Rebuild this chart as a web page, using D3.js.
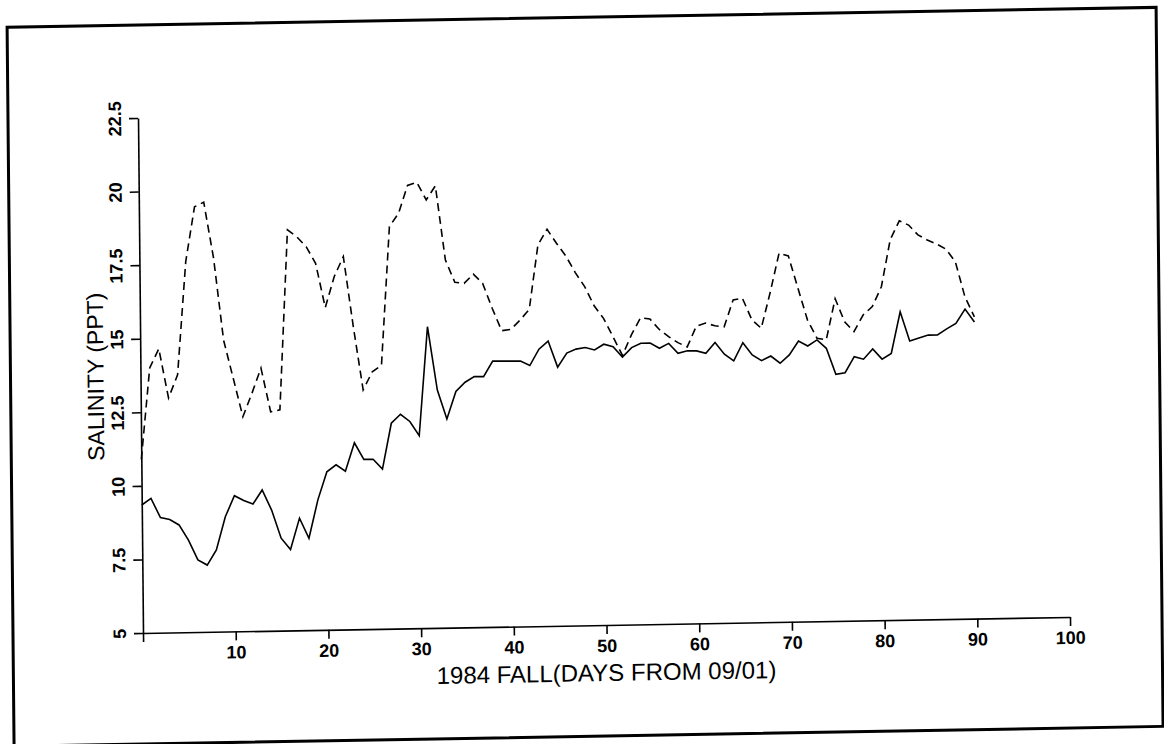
<!DOCTYPE html>
<html>
<head>
<meta charset="utf-8">
<script src="https://cdn.jsdelivr.net/npm/d3@7"></script>
<style>
  html, body { margin: 0; padding: 0; background: #fff; }
  svg { display: block; }
  text { font-family: "Liberation Sans", Arial, Helvetica, sans-serif; fill: #000; }
</style>
</head>
<body>
<svg id="chart" width="1164" height="744"></svg>
<script>
// ---- data (salinity, PPT) ----
const days = d3.range(0, 91); // days from 09/01

const solidSeries = [
  9.35, 9.57, 8.91, 8.84, 8.65, 8.13, 7.45, 7.27, 7.78, 8.90,
  9.61, 9.44, 9.32, 9.79, 9.10, 8.14, 7.75, 8.81, 8.12, 9.42,
  10.37, 10.60, 10.38, 11.34, 10.77, 10.77, 10.43, 11.98, 12.28, 12.03,
  11.54, 15.24, 13.08, 12.09, 13.02, 13.33, 13.52, 13.51, 14.03, 14.03,
  14.02, 14.02, 13.86, 14.41, 14.68, 13.79, 14.26, 14.39, 14.44, 14.35,
  14.54, 14.45, 14.09, 14.41, 14.55, 14.55, 14.37, 14.53, 14.19, 14.27,
  14.26, 14.17, 14.53, 14.13, 13.90, 14.51, 14.09, 13.89, 14.04, 13.79,
  14.07, 14.53, 14.36, 14.56, 14.27, 13.38, 13.43, 13.97, 13.88, 14.22,
  13.87, 14.06, 15.47, 14.47, 14.57, 14.66, 14.66, 14.86, 15.04, 15.52,
  15.08
];

const dashedSeries = [
  10.9, 14.0, 14.65, 12.97, 13.75, 17.6, 19.45, 19.6, 17.7, 14.9,
  13.6, 12.29, 13.08, 13.93, 12.44, 12.5, 18.61, 18.37, 18.03, 17.46,
  15.95, 17.0, 17.67, 15.29, 13.13, 13.74, 13.95, 18.66, 19.11, 20.05,
  20.15, 19.55, 20.02, 17.5, 16.73, 16.69, 17.0, 16.68, 15.83, 15.06,
  15.1, 15.41, 15.77, 17.95, 18.48, 18.0, 17.56, 16.99, 16.51, 15.85,
  15.42, 14.79, 14.15, 14.85, 15.42, 15.37, 15.01, 14.76, 14.55, 14.4,
  15.1, 15.2, 15.1, 15.06, 15.97, 16.02, 15.28, 14.99, 16.2, 17.53,
  17.43, 16.33, 15.24, 14.62, 14.56, 15.95, 15.16, 14.82, 15.38, 15.66,
  16.33, 17.92, 18.56, 18.41, 18.07, 17.89, 17.75, 17.57, 17.14, 15.94,
  15.25
];

const xMajorTicks = [0, 10, 20, 30, 40, 50, 60, 70, 80, 90, 100];
const xMinorTicks = [2, 4, 6, 8, 12, 14, 16, 18, 22, 24, 26, 28, 32, 34, 36, 38,
  42, 44, 46, 48, 52, 54, 56, 58, 62, 64, 66, 68, 72, 74, 76, 78, 82, 84, 86, 88,
  92, 94, 96, 98];
const yMajorTicks = [5, 7.5, 10, 12.5, 15, 17.5, 20, 22.5];
const yMinorTicks = [6.25, 8.75, 11.25, 13.75, 16.25, 18.75, 21.25];

const xTitle = "1984 FALL(DAYS FROM 09/01)";
const yTitle = "SALINITY (PPT)";

// ---- layout ----
const svg = d3.select("#chart");
svg.append("rect").attr("width", 1164).attr("height", 744).attr("fill", "#fff");

// the scanned page is slightly tilted; reproduce with a small affine transform
const g = svg.append("g")
  .attr("transform", "matrix(1,-0.0173,0.0097,1,-6.14,2.474)");

// frame
g.append("rect")
  .attr("x", 13).attr("y", 25).attr("width", 1149).attr("height", 719)
  .attr("fill", "none").attr("stroke", "#000").attr("stroke-width", 3);

const x = d3.scaleLinear().domain([0, 100]).range([143, 1070]);
const y = d3.scaleLinear().domain([5, 22.5]).range([633, 118]);

// x axis (major + minor)
const xAxisG = g.append("g").attr("transform", `translate(0,${y(5)})`);
xAxisG.call(d3.axisBottom(x).tickValues(xMinorTicks).tickSize(4).tickSizeOuter(0).tickFormat(""));
xAxisG.call(d3.axisBottom(x).tickValues(xMajorTicks).tickSize(9).tickSizeOuter(0)
  .tickFormat(d => d === 0 ? "" : String(d)));
xAxisG.selectAll("path, line").attr("stroke", "#000").attr("stroke-width", 1.6);
xAxisG.selectAll("text")
  .attr("y", 27).attr("dy", null)
  .style("font-size", "18px").style("font-weight", "bold").attr("fill", "#000");

// y axis (major + minor)
const yAxisG = g.append("g").attr("transform", `translate(${x(0)},0)`);
yAxisG.call(d3.axisLeft(y).tickValues(yMinorTicks).tickSize(4).tickSizeOuter(0).tickFormat(""));
yAxisG.call(d3.axisLeft(y).tickValues(yMajorTicks).tickSize(9).tickSizeOuter(0)
  .tickFormat(d => String(d)));
yAxisG.selectAll("path, line").attr("stroke", "#000").attr("stroke-width", 1.6);
yAxisG.selectAll("text")
  .attr("x", null).attr("dy", null)
  .attr("text-anchor", "middle")
  .attr("transform", "translate(-17,0) rotate(-90)")
  .style("font-size", "18px").style("font-weight", "bold").attr("fill", "#000");

// titles
g.append("text")
  .attr("x", 606).attr("y", 689)
  .attr("text-anchor", "middle")
  .style("font-size", "24px")
  .text(xTitle);

g.append("text")
  .attr("transform", "translate(106,376) rotate(-90)")
  .attr("text-anchor", "middle")
  .style("font-size", "23px")
  .text(yTitle);

// lines
const line = d3.line().x((d, i) => x(days[i])).y(d => y(d));

g.append("path")
  .datum(dashedSeries)
  .attr("d", line)
  .attr("fill", "none")
  .attr("stroke", "#000")
  .attr("stroke-width", 1.6)
  .attr("stroke-dasharray", "8,5");

g.append("path")
  .datum(solidSeries)
  .attr("d", line)
  .attr("fill", "none")
  .attr("stroke", "#000")
  .attr("stroke-width", 1.6);
</script>
</body>
</html>
